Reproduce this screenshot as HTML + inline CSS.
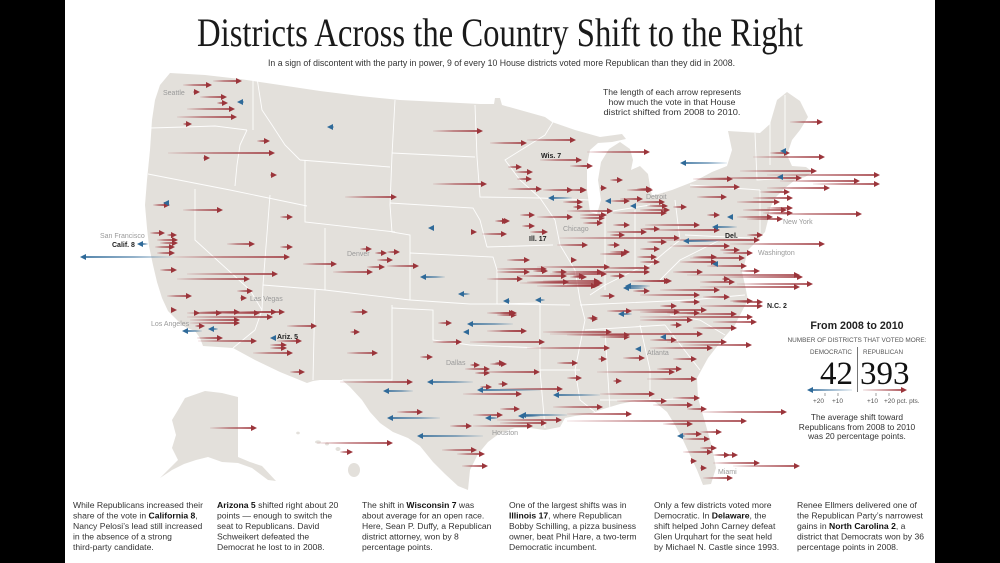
<!DOCTYPE html>
<html><head><meta charset="utf-8"><style>
html,body{margin:0;padding:0;background:#000;}
svg{display:block;}
</style></head><body>
<svg width="1000" height="563" viewBox="0 0 1000 563" xmlns="http://www.w3.org/2000/svg">
<defs>
<linearGradient id="R" x1="0" y1="0" x2="1" y2="0"><stop offset="0" stop-color="#a0393f" stop-opacity="0.08"/><stop offset="0.45" stop-color="#a0393f" stop-opacity="0.65"/><stop offset="1" stop-color="#a0393f" stop-opacity="1"/></linearGradient>
<linearGradient id="B" x1="0" y1="0" x2="1" y2="0"><stop offset="0" stop-color="#2f6a99" stop-opacity="1"/><stop offset="0.55" stop-color="#2f6a99" stop-opacity="0.65"/><stop offset="1" stop-color="#2f6a99" stop-opacity="0.08"/></linearGradient>
<linearGradient id="LB" x1="0" y1="0" x2="1" y2="0"><stop offset="0" stop-color="#2f6a99"/><stop offset="1" stop-color="#2f6a99" stop-opacity="0.12"/></linearGradient>
<linearGradient id="LR" x1="0" y1="0" x2="1" y2="0"><stop offset="0" stop-color="#a0393f" stop-opacity="0.12"/><stop offset="1" stop-color="#a0393f"/></linearGradient>
</defs>
<rect x="0" y="0" width="1000" height="563" fill="#000"/>
<rect x="65" y="0" width="870" height="563" fill="#fff"/>

<!-- map -->
<g fill="#e3e0db">
<path d="M170,73 L205,75 L240,79 L280,85 L320,91 L360,96 L400,100 L440,102 L480,104 L494,104 L495,98 L500,98 L502,105 L520,110 L545,117 L552,122 L575,130 L600,137 L622,134 L626,139 L612,142 L598,143 L590,150 L587,165 L587,190 L590,212 L597,214 L601,200 L598,180 L601,162 L609,149 L620,142 L630,149 L633,160 L631,170 L640,166 L648,174 L650,186 L652,196 L672,190 L695,181 L712,172 L727,166 L732,150 L728,131 L760,133 L770,124 L777,100 L787,92 L800,101 L808,117 L800,130 L792,140 L787,155 L792,166 L806,167 L813,172 L805,177 L795,180 L785,188 L775,198 L770,208 L768,220 L765,232 L755,243 L748,250 L745,262 L742,272 L745,285 L748,300 L740,315 L735,325 L722,340 L708,358 L697,378 L698,398 L705,422 L712,447 L716,468 L711,484 L703,485 L697,470 L690,455 L683,440 L675,425 L667,412 L655,402 L640,400 L620,404 L600,410 L590,414 L575,416 L565,418 L560,427 L545,430 L530,428 L515,428 L500,433 L488,442 L478,454 L470,470 L468,490 L458,486 L445,474 L433,462 L420,446 L408,438 L393,432 L380,423 L370,412 L362,400 L350,387 L342,380 L320,380 L313,381 L307,383 L280,372 L255,360 L233,348 L203,346 L200,338 L195,331 L185,327 L178,321 L168,311 L162,298 L157,282 L153,265 L149,246 L147,228 L145,205 L147,180 L150,150 L152,120 L155,100 L160,85 Z"/>
<path d="M185,398 L205,391 L222,393 L238,397 L238,457 L250,462 L262,466 L276,481 L268,480 L252,468 L238,463 L222,462 L208,457 L196,460 L184,464 L172,470 L160,478 L168,470 L178,460 L172,448 L176,435 L172,420 L178,410 Z"/>
<ellipse cx="298" cy="433" rx="1.8" ry="1.4"/><ellipse cx="318" cy="442" rx="3" ry="1.6"/><ellipse cx="327" cy="444" rx="2" ry="1.5"/><ellipse cx="338" cy="449" rx="2.5" ry="2"/><ellipse cx="354" cy="470" rx="6" ry="7"/>
</g>
<!-- state borders -->
<g fill="none" stroke="#fff" stroke-width="0.9" stroke-opacity="0.95">
<path d="M150,128 L185,127 L215,126 L247,130"/>
<path d="M253,75 L253,130"/>
<path d="M247,130 L240,145 L237,165 L235,186"/>
<path d="M148,174 L230,190 L307,206"/>
<path d="M195,189 L195,240 L250,290 L262,310"/>
<path d="M270,195 L263,285 L262,310 L255,330 L233,348"/>
<path d="M257,78 L262,110 L272,125 L285,145 L300,160"/>
<path d="M300,160 L390,167"/>
<path d="M305,160 L305,222 L395,232"/>
<path d="M325,228 L325,290"/>
<path d="M263,285 L325,290 L410,300 L470,304 L497,304"/>
<path d="M315,290 L313,380"/>
<path d="M395,100 L392,155 L390,205 L392,232 L410,235 L410,300"/>
<path d="M392,153 L475,157"/>
<path d="M390,203 L473,208 L480,220 L487,247"/>
<path d="M410,253 L493,257 L497,270 L497,304"/>
<path d="M392,305 L392,380 L342,380"/>
<path d="M392,308 L433,310 L433,340 L470,345 L540,348"/>
<path d="M497,304 L540,303 L540,370 L545,428"/>
<path d="M475,105 L477,157 L480,197 L540,198"/>
<path d="M553,122 L545,135 L505,160 L520,180 L540,198"/>
<path d="M487,247 L553,245"/>
<path d="M497,304 L570,305"/>
<path d="M540,198 L555,220 L560,245 L575,270 L580,300 L585,320 L580,345 L575,370 L580,400 L595,412"/>
<path d="M540,198 L590,200"/>
<path d="M605,215 L605,290"/>
<path d="M635,210 L635,270"/>
<path d="M675,200 L680,240"/>
<path d="M590,295 L605,285 L635,270 L650,265 L665,252 L680,240"/>
<path d="M600,213 L650,205"/>
<path d="M580,305 L690,300 L745,295"/>
<path d="M585,330 L665,325"/>
<path d="M540,370 L580,370"/>
<path d="M605,330 L610,410"/>
<path d="M640,325 L650,370 L650,400"/>
<path d="M600,400 L655,400 L697,398"/>
<path d="M665,325 L700,370"/>
<path d="M670,315 L700,320 L725,335"/>
<path d="M660,280 L680,260 L700,250 L720,240"/>
<path d="M690,185 L760,190"/>
<path d="M685,235 L750,238"/>
<path d="M760,190 L760,235"/>
<path d="M755,133 L757,180 L790,178"/>
<path d="M770,122 L770,165"/>
<path d="M785,95 L785,150"/>
</g>

<!-- red arrow shafts -->
<g fill="url(#R)">
<rect x="213" y="80.2" width="24" height="1.6"/><rect x="183" y="84.2" width="24" height="1.6"/><rect x="193" y="91.2" width="2" height="1.6"/><rect x="200" y="96.2" width="22" height="1.6"/><rect x="217" y="102.2" width="6" height="1.6"/><rect x="187" y="108.2" width="43" height="1.6"/><rect x="177" y="116.2" width="55" height="1.6"/><rect x="183" y="123.2" width="4" height="1.6"/><rect x="257" y="140.2" width="8" height="1.6"/><rect x="168" y="152.2" width="102" height="1.6"/><rect x="203" y="157.2" width="2" height="1.6"/><rect x="270" y="174.2" width="2" height="1.6"/><rect x="153" y="204.2" width="12" height="1.6"/><rect x="183" y="209.2" width="35" height="1.6"/><rect x="280" y="216.2" width="8" height="1.6"/><rect x="345" y="196.2" width="47" height="1.6"/><rect x="150" y="232.2" width="10" height="1.6"/><rect x="167" y="234.2" width="5" height="1.6"/><rect x="157" y="239.2" width="16" height="1.6"/><rect x="160" y="242.2" width="13" height="1.6"/><rect x="155" y="246.2" width="15" height="1.6"/><rect x="227" y="243.2" width="23" height="1.6"/><rect x="280" y="246.2" width="8" height="1.6"/><rect x="173" y="256.2" width="112" height="1.6"/><rect x="157" y="252.2" width="13" height="1.6"/><rect x="303" y="263.2" width="29" height="1.6"/><rect x="160" y="269.2" width="12" height="1.6"/><rect x="187" y="273.2" width="86" height="1.6"/><rect x="177" y="278.2" width="68" height="1.6"/><rect x="167" y="295.2" width="20" height="1.6"/><rect x="237" y="290.2" width="11" height="1.6"/><rect x="240" y="297.2" width="2" height="1.6"/>
<rect x="187" y="312.2" width="30" height="1.6"/><rect x="200" y="311.2" width="35" height="1.6"/><rect x="210" y="312.2" width="45" height="1.6"/><rect x="230" y="311.2" width="42" height="1.6"/><rect x="250" y="311.2" width="30" height="1.6"/><rect x="187" y="316.2" width="81" height="1.6"/><rect x="190" y="319.2" width="45" height="1.6"/><rect x="190" y="322.2" width="45" height="1.6"/><rect x="195" y="325.2" width="5" height="1.6"/><rect x="197" y="337.2" width="21" height="1.6"/><rect x="198" y="340.2" width="54" height="1.6"/><rect x="277" y="340.2" width="20" height="1.6"/><rect x="270" y="344.2" width="12" height="1.6"/><rect x="270" y="347.2" width="12" height="1.6"/><rect x="253" y="352.2" width="35" height="1.6"/><rect x="287" y="325.2" width="25" height="1.6"/><rect x="290" y="371.2" width="10" height="1.6"/><rect x="350" y="311.2" width="13" height="1.6"/><rect x="350" y="331.2" width="5" height="1.6"/><rect x="347" y="352.2" width="26" height="1.6"/>
<rect x="433" y="130.2" width="45" height="1.6"/><rect x="490" y="142.2" width="32" height="1.6"/><rect x="527" y="139.2" width="44" height="1.6"/><rect x="540" y="159.2" width="37" height="1.6"/><rect x="570" y="165.2" width="18" height="1.6"/><rect x="508" y="166.2" width="9" height="1.6"/><rect x="515" y="171.2" width="13" height="1.6"/><rect x="517" y="178.2" width="10" height="1.6"/><rect x="508" y="188.2" width="29" height="1.6"/><rect x="543" y="189.2" width="25" height="1.6"/><rect x="567" y="189.2" width="14" height="1.6"/><rect x="433" y="183.2" width="49" height="1.6"/><rect x="563" y="201.2" width="15" height="1.6"/><rect x="573" y="206.2" width="5" height="1.6"/><rect x="482" y="233.2" width="20" height="1.6"/><rect x="495" y="220.2" width="8" height="1.6"/><rect x="520" y="214.2" width="10" height="1.6"/><rect x="537" y="216.2" width="31" height="1.6"/><rect x="522" y="225.2" width="8" height="1.6"/><rect x="530" y="231.2" width="13" height="1.6"/><rect x="557" y="244.2" width="26" height="1.6"/><rect x="360" y="248.2" width="7" height="1.6"/><rect x="375" y="252.2" width="7" height="1.6"/><rect x="387" y="251.2" width="8" height="1.6"/><rect x="377" y="259.2" width="11" height="1.6"/><rect x="367" y="266.2" width="13" height="1.6"/><rect x="387" y="265.2" width="27" height="1.6"/><rect x="333" y="271.2" width="35" height="1.6"/><rect x="507" y="259.2" width="18" height="1.6"/><rect x="497" y="271.2" width="28" height="1.6"/><rect x="533" y="270.2" width="10" height="1.6"/><rect x="552" y="271.2" width="10" height="1.6"/><rect x="487" y="278.2" width="31" height="1.6"/><rect x="527" y="281.2" width="37" height="1.6"/><rect x="570" y="276.2" width="12" height="1.6"/>
<rect x="487" y="312.2" width="25" height="1.6"/><rect x="438" y="322.2" width="9" height="1.6"/><rect x="487" y="330.2" width="35" height="1.6"/><rect x="433" y="341.2" width="24" height="1.6"/><rect x="470" y="341.2" width="70" height="1.6"/><rect x="420" y="356.2" width="8" height="1.6"/><rect x="470" y="364.2" width="5" height="1.6"/><rect x="465" y="368.2" width="20" height="1.6"/><rect x="475" y="372.2" width="10" height="1.6"/><rect x="490" y="363.2" width="12" height="1.6"/><rect x="483" y="371.2" width="52" height="1.6"/><rect x="340" y="381.2" width="68" height="1.6"/><rect x="480" y="386.2" width="7" height="1.6"/><rect x="463" y="393.2" width="54" height="1.6"/><rect x="500" y="408.2" width="15" height="1.6"/><rect x="397" y="411.2" width="21" height="1.6"/><rect x="473" y="414.2" width="25" height="1.6"/><rect x="497" y="419.2" width="60" height="1.6"/><rect x="450" y="425.2" width="17" height="1.6"/><rect x="473" y="425.2" width="55" height="1.6"/><rect x="442" y="449.2" width="30" height="1.6"/><rect x="457" y="453.2" width="23" height="1.6"/><rect x="462" y="465.2" width="21" height="1.6"/><rect x="210" y="427.2" width="42" height="1.6"/><rect x="317" y="442.2" width="71" height="1.6"/><rect x="340" y="451.2" width="8" height="1.6"/>
<rect x="560" y="271.2" width="38" height="1.6"/><rect x="583" y="271.2" width="62" height="1.6"/><rect x="673" y="271.2" width="25" height="1.6"/><rect x="740" y="270.2" width="15" height="1.6"/><rect x="573" y="275.2" width="7" height="1.6"/><rect x="610" y="275.2" width="10" height="1.6"/><rect x="520" y="282.2" width="78" height="1.6"/><rect x="567" y="284.2" width="28" height="1.6"/><rect x="643" y="280.2" width="24" height="1.6"/><rect x="687" y="274.2" width="108" height="1.6"/><rect x="700" y="286.2" width="95" height="1.6"/><rect x="722" y="278.2" width="3" height="1.6"/><rect x="600" y="295.2" width="10" height="1.6"/><rect x="703" y="296.2" width="22" height="1.6"/><rect x="730" y="300.2" width="18" height="1.6"/><rect x="733" y="301.2" width="25" height="1.6"/><rect x="680" y="301.2" width="15" height="1.6"/><rect x="660" y="305.2" width="12" height="1.6"/><rect x="700" y="305.2" width="58" height="1.6"/><rect x="500" y="312.2" width="10" height="1.6"/><rect x="607" y="310.2" width="20" height="1.6"/><rect x="627" y="309.2" width="75" height="1.6"/><rect x="667" y="312.2" width="28" height="1.6"/><rect x="687" y="313.2" width="45" height="1.6"/><rect x="590" y="318.2" width="3" height="1.6"/><rect x="640" y="316.2" width="108" height="1.6"/><rect x="640" y="319.2" width="48" height="1.6"/><rect x="713" y="321.2" width="39" height="1.6"/><rect x="670" y="324.2" width="7" height="1.6"/><rect x="693" y="327.2" width="39" height="1.6"/><rect x="500" y="330.2" width="22" height="1.6"/><rect x="543" y="331.2" width="64" height="1.6"/><rect x="550" y="333.2" width="148" height="1.6"/><rect x="600" y="336.2" width="25" height="1.6"/><rect x="650" y="339.2" width="22" height="1.6"/><rect x="667" y="341.2" width="55" height="1.6"/><rect x="683" y="344.2" width="64" height="1.6"/><rect x="527" y="347.2" width="78" height="1.6"/><rect x="650" y="347.2" width="58" height="1.6"/><rect x="673" y="358.2" width="19" height="1.6"/><rect x="598" y="358.2" width="4" height="1.6"/><rect x="623" y="357.2" width="17" height="1.6"/><rect x="557" y="362.2" width="16" height="1.6"/><rect x="495" y="362.2" width="5" height="1.6"/><rect x="597" y="371.2" width="73" height="1.6"/><rect x="657" y="368.2" width="20" height="1.6"/><rect x="567" y="377.2" width="10" height="1.6"/><rect x="647" y="378.2" width="45" height="1.6"/><rect x="613" y="380.2" width="4" height="1.6"/><rect x="498" y="383.2" width="5" height="1.6"/><rect x="500" y="388.2" width="58" height="1.6"/><rect x="600" y="393.2" width="50" height="1.6"/><rect x="673" y="397.2" width="22" height="1.6"/><rect x="653" y="404.2" width="35" height="1.6"/><rect x="617" y="400.2" width="45" height="1.6"/><rect x="553" y="406.2" width="45" height="1.6"/><rect x="687" y="408.2" width="15" height="1.6"/><rect x="700" y="411.2" width="82" height="1.6"/><rect x="567" y="413.2" width="60" height="1.6"/><rect x="500" y="422.2" width="42" height="1.6"/><rect x="567" y="420.2" width="175" height="1.6"/><rect x="663" y="423.2" width="25" height="1.6"/><rect x="700" y="431.2" width="17" height="1.6"/><rect x="680" y="433.2" width="17" height="1.6"/><rect x="683" y="438.2" width="22" height="1.6"/><rect x="700" y="447.2" width="12" height="1.6"/><rect x="683" y="451.2" width="25" height="1.6"/><rect x="713" y="454.2" width="12" height="1.6"/><rect x="723" y="454.2" width="10" height="1.6"/><rect x="690" y="460.2" width="2" height="1.6"/><rect x="713" y="462.2" width="42" height="1.6"/><rect x="733" y="465.2" width="62" height="1.6"/><rect x="700" y="467.2" width="2" height="1.6"/><rect x="703" y="477.2" width="25" height="1.6"/>
<rect x="790" y="121.2" width="28" height="1.6"/><rect x="587" y="151.2" width="58" height="1.6"/><rect x="770" y="152.2" width="15" height="1.6"/><rect x="753" y="156.2" width="67" height="1.6"/><rect x="580" y="165.2" width="8" height="1.6"/><rect x="610" y="179.2" width="8" height="1.6"/><rect x="740" y="170.2" width="72" height="1.6"/><rect x="767" y="174.2" width="108" height="1.6"/><rect x="693" y="178.2" width="35" height="1.6"/><rect x="710" y="177.2" width="87" height="1.6"/><rect x="780" y="180.2" width="75" height="1.6"/><rect x="813" y="183.2" width="62" height="1.6"/><rect x="767" y="187.2" width="58" height="1.6"/><rect x="580" y="189.2" width="2" height="1.6"/><rect x="600" y="187.2" width="2" height="1.6"/><rect x="637" y="188.2" width="10" height="1.6"/><rect x="690" y="186.2" width="45" height="1.6"/><rect x="697" y="196.2" width="25" height="1.6"/><rect x="760" y="191.2" width="25" height="1.6"/><rect x="610" y="200.2" width="15" height="1.6"/><rect x="637" y="201.2" width="23" height="1.6"/><rect x="647" y="205.2" width="16" height="1.6"/><rect x="673" y="206.2" width="9" height="1.6"/><rect x="737" y="201.2" width="38" height="1.6"/><rect x="753" y="197.2" width="35" height="1.6"/><rect x="767" y="207.2" width="21" height="1.6"/><rect x="743" y="209.2" width="39" height="1.6"/><rect x="763" y="212.2" width="25" height="1.6"/><rect x="767" y="213.2" width="90" height="1.6"/><rect x="580" y="214.2" width="22" height="1.6"/><rect x="580" y="217.2" width="20" height="1.6"/><rect x="613" y="212.2" width="49" height="1.6"/><rect x="707" y="214.2" width="8" height="1.6"/><rect x="737" y="216.2" width="31" height="1.6"/><rect x="747" y="218.2" width="31" height="1.6"/><rect x="730" y="243.2" width="90" height="1.6"/><rect x="747" y="234.2" width="11" height="1.6"/><rect x="720" y="249.2" width="15" height="1.6"/><rect x="723" y="252.2" width="25" height="1.6"/><rect x="693" y="256.2" width="19" height="1.6"/><rect x="680" y="261.2" width="32" height="1.6"/><rect x="707" y="265.2" width="35" height="1.6"/><rect x="723" y="276.2" width="75" height="1.6"/><rect x="737" y="283.2" width="71" height="1.6"/><rect x="657" y="280.2" width="10" height="1.6"/>
<rect x="627" y="189.2" width="21" height="1.6"/><rect x="620" y="198.2" width="18" height="1.6"/><rect x="640" y="209.2" width="25" height="1.6"/><rect x="567" y="210.2" width="41" height="1.6"/><rect x="500" y="220.2" width="5" height="1.6"/><rect x="583" y="222.2" width="15" height="1.6"/><rect x="613" y="224.2" width="12" height="1.6"/><rect x="607" y="231.2" width="35" height="1.6"/><rect x="610" y="234.2" width="10" height="1.6"/><rect x="640" y="228.2" width="15" height="1.6"/><rect x="560" y="237.2" width="115" height="1.6"/><rect x="607" y="244.2" width="8" height="1.6"/><rect x="610" y="251.2" width="15" height="1.6"/><rect x="640" y="248.2" width="15" height="1.6"/><rect x="647" y="241.2" width="15" height="1.6"/><rect x="600" y="253.2" width="22" height="1.6"/><rect x="637" y="256.2" width="15" height="1.6"/><rect x="640" y="261.2" width="15" height="1.6"/><rect x="497" y="268.2" width="45" height="1.6"/><rect x="537" y="266.2" width="68" height="1.6"/><rect x="600" y="267.2" width="45" height="1.6"/><rect x="550" y="273.2" width="52" height="1.6"/><rect x="517" y="275.2" width="45" height="1.6"/><rect x="543" y="280.2" width="52" height="1.6"/><rect x="537" y="285.2" width="55" height="1.6"/><rect x="630" y="280.2" width="35" height="1.6"/><rect x="633" y="290.2" width="12" height="1.6"/><rect x="497" y="314.2" width="15" height="1.6"/><rect x="587" y="317.2" width="6" height="1.6"/><rect x="640" y="311.2" width="35" height="1.6"/><rect x="567" y="334.2" width="58" height="1.6"/>
<rect x="645" y="224.2" width="50" height="1.6"/><rect x="650" y="229.2" width="65" height="1.6"/><rect x="660" y="239.2" width="95" height="1.6"/><rect x="660" y="289.2" width="55" height="1.6"/><rect x="640" y="294.2" width="55" height="1.6"/><rect x="700" y="281.2" width="30" height="1.6"/><rect x="670" y="245.2" width="55" height="1.6"/><rect x="690" y="257.2" width="50" height="1.6"/>
</g>
<!-- red arrow heads -->
<path fill="#9b353b" d="M242 81l-6-3v6zM212 85l-6-3v6zM200 92l-6-3v6zM227 97l-6-3v6zM228 103l-6-3v6zM235 109l-6-3v6zM237 117l-6-3v6zM192 124l-6-3v6zM270 141l-6-3v6zM275 153l-6-3v6zM210 158l-6-3v6zM277 175l-6-3v6zM170 205l-6-3v6zM223 210l-6-3v6zM293 217l-6-3v6zM397 197l-6-3v6zM165 233l-6-3v6zM177 235l-6-3v6zM178 240l-6-3v6zM178 243l-6-3v6zM175 247l-6-3v6zM255 244l-6-3v6zM293 247l-6-3v6zM290 257l-6-3v6zM175 253l-6-3v6zM337 264l-6-3v6zM177 270l-6-3v6zM278 274l-6-3v6zM250 279l-6-3v6zM192 296l-6-3v6zM253 291l-6-3v6zM247 298l-6-3v6zM177 310l-6-3v6z
M200 313l-6-3v6zM222 313l-6-3v6zM240 312l-6-3v6zM260 313l-6-3v6zM277 312l-6-3v6zM285 312l-6-3v6zM273 317l-6-3v6zM240 320l-6-3v6zM240 323l-6-3v6zM205 326l-6-3v6zM223 338l-6-3v6zM257 341l-6-3v6zM302 341l-6-3v6zM287 345l-6-3v6zM287 348l-6-3v6zM293 353l-6-3v6zM317 326l-6-3v6zM305 372l-6-3v6zM368 312l-6-3v6zM360 332l-6-3v6zM378 353l-6-3v6z
M483 131l-6-3v6zM527 143l-6-3v6zM576 140l-6-3v6zM582 160l-6-3v6zM593 166l-6-3v6zM522 167l-6-3v6zM533 172l-6-3v6zM532 179l-6-3v6zM542 189l-6-3v6zM573 190l-6-3v6zM586 190l-6-3v6zM487 184l-6-3v6zM583 202l-6-3v6zM583 207l-6-3v6zM477 232l-6-3v6zM507 234l-6-3v6zM508 221l-6-3v6zM535 215l-6-3v6zM573 217l-6-3v6zM535 226l-6-3v6zM548 232l-6-3v6zM588 245l-6-3v6zM372 249l-6-3v6zM387 253l-6-3v6zM400 252l-6-3v6zM393 260l-6-3v6zM385 267l-6-3v6zM419 266l-6-3v6zM373 272l-6-3v6zM530 260l-6-3v6zM577 260l-6-3v6zM530 272l-6-3v6zM548 271l-6-3v6zM567 272l-6-3v6zM523 279l-6-3v6zM569 282l-6-3v6zM587 277l-6-3v6z
M517 313l-6-3v6zM452 323l-6-3v6zM527 331l-6-3v6zM462 342l-6-3v6zM545 342l-6-3v6zM433 357l-6-3v6zM480 365l-6-3v6zM490 369l-6-3v6zM490 373l-6-3v6zM507 364l-6-3v6zM540 372l-6-3v6zM413 382l-6-3v6zM492 387l-6-3v6zM522 394l-6-3v6zM520 409l-6-3v6zM423 412l-6-3v6zM503 415l-6-3v6zM562 420l-6-3v6zM472 426l-6-3v6zM533 426l-6-3v6zM477 450l-6-3v6zM485 454l-6-3v6zM488 466l-6-3v6zM257 428l-6-3v6zM393 443l-6-3v6zM353 452l-6-3v6z
M603 272l-6-3v6zM650 272l-6-3v6zM703 272l-6-3v6zM760 271l-6-3v6zM585 276l-6-3v6zM625 276l-6-3v6zM603 283l-6-3v6zM600 285l-6-3v6zM672 281l-6-3v6zM800 275l-6-3v6zM800 287l-6-3v6zM730 279l-6-3v6zM615 296l-6-3v6zM730 297l-6-3v6zM753 301l-6-3v6zM763 302l-6-3v6zM700 302l-6-3v6zM677 306l-6-3v6zM763 306l-6-3v6zM515 313l-6-3v6zM632 311l-6-3v6zM707 310l-6-3v6zM700 313l-6-3v6zM737 314l-6-3v6zM598 319l-6-3v6zM753 317l-6-3v6zM693 320l-6-3v6zM757 322l-6-3v6zM682 325l-6-3v6zM737 328l-6-3v6zM527 331l-6-3v6zM612 332l-6-3v6zM703 334l-6-3v6zM630 337l-6-3v6zM677 340l-6-3v6zM727 342l-6-3v6zM752 345l-6-3v6zM610 348l-6-3v6zM713 348l-6-3v6zM697 359l-6-3v6zM607 359l-6-3v6zM645 358l-6-3v6zM578 363l-6-3v6zM505 363l-6-3v6zM675 372l-6-3v6zM682 369l-6-3v6zM582 378l-6-3v6zM697 379l-6-3v6zM622 381l-6-3v6zM508 384l-6-3v6zM563 389l-6-3v6zM655 394l-6-3v6zM700 398l-6-3v6zM693 405l-6-3v6zM667 401l-6-3v6zM603 407l-6-3v6zM707 409l-6-3v6zM787 412l-6-3v6zM632 414l-6-3v6zM547 423l-6-3v6zM747 421l-6-3v6zM693 424l-6-3v6zM722 432l-6-3v6zM702 434l-6-3v6zM710 439l-6-3v6zM717 448l-6-3v6zM713 452l-6-3v6zM730 455l-6-3v6zM738 455l-6-3v6zM697 461l-6-3v6zM760 463l-6-3v6zM800 466l-6-3v6zM707 468l-6-3v6zM733 478l-6-3v6z
M823 122l-6-3v6zM650 152l-6-3v6zM790 153l-6-3v6zM825 157l-6-3v6zM593 166l-6-3v6zM623 180l-6-3v6zM817 171l-6-3v6zM880 175l-6-3v6zM733 179l-6-3v6zM802 178l-6-3v6zM860 181l-6-3v6zM880 184l-6-3v6zM830 188l-6-3v6zM587 190l-6-3v6zM607 188l-6-3v6zM652 189l-6-3v6zM740 187l-6-3v6zM727 197l-6-3v6zM790 192l-6-3v6zM630 201l-6-3v6zM665 202l-6-3v6zM668 206l-6-3v6zM687 207l-6-3v6zM780 202l-6-3v6zM793 198l-6-3v6zM793 208l-6-3v6zM787 210l-6-3v6zM793 213l-6-3v6zM862 214l-6-3v6zM607 215l-6-3v6zM605 218l-6-3v6zM667 213l-6-3v6zM720 215l-6-3v6zM773 217l-6-3v6zM783 219l-6-3v6zM825 244l-6-3v6zM763 235l-6-3v6zM740 250l-6-3v6zM753 253l-6-3v6zM717 257l-6-3v6zM717 262l-6-3v6zM747 266l-6-3v6zM803 277l-6-3v6zM813 284l-6-3v6zM672 281l-6-3v6z
M653 190l-6-3v6zM643 199l-6-3v6zM670 210l-6-3v6zM613 211l-6-3v6zM510 221l-6-3v6zM603 223l-6-3v6zM630 225l-6-3v6zM647 232l-6-3v6zM625 235l-6-3v6zM660 229l-6-3v6zM680 238l-6-3v6zM620 245l-6-3v6zM630 252l-6-3v6zM660 249l-6-3v6zM667 242l-6-3v6zM627 254l-6-3v6zM657 257l-6-3v6zM660 262l-6-3v6zM547 269l-6-3v6zM610 267l-6-3v6zM650 268l-6-3v6zM607 274l-6-3v6zM567 276l-6-3v6zM600 281l-6-3v6zM597 286l-6-3v6zM670 281l-6-3v6zM650 291l-6-3v6zM517 315l-6-3v6zM598 318l-6-3v6zM680 312l-6-3v6zM630 335l-6-3v6z
M700 225l-6-3v6zM720 230l-6-3v6zM760 240l-6-3v6zM720 290l-6-3v6zM700 295l-6-3v6zM735 282l-6-3v6zM730 246l-6-3v6zM745 258l-6-3v6z"/>

<!-- blue arrows -->
<g fill="url(#B)">
<rect x="242" y="101.2" width="2" height="1.6"/><rect x="332" y="126.2" width="2" height="1.6"/><rect x="142" y="243.2" width="6" height="1.6"/><rect x="85" y="256.2" width="88" height="1.6"/><rect x="187" y="330.2" width="15" height="1.6"/><rect x="213" y="328.2" width="5" height="1.6"/><rect x="425" y="276.2" width="20" height="1.6"/><rect x="463" y="293.2" width="7" height="1.6"/><rect x="508" y="300.2" width="2" height="1.6"/><rect x="540" y="299.2" width="5" height="1.6"/><rect x="472" y="323.2" width="41" height="1.6"/><rect x="432" y="381.2" width="41" height="1.6"/><rect x="482" y="389.2" width="58" height="1.6"/><rect x="388" y="390.2" width="25" height="1.6"/><rect x="392" y="417.2" width="48" height="1.6"/><rect x="490" y="417.2" width="8" height="1.6"/><rect x="523" y="415.2" width="17" height="1.6"/><rect x="422" y="435.2" width="61" height="1.6"/><rect x="553" y="197.2" width="19" height="1.6"/><rect x="630" y="285.2" width="20" height="1.6"/><rect x="623" y="313.2" width="9" height="1.6"/><rect x="558" y="394.2" width="42" height="1.6"/><rect x="525" y="414.2" width="42" height="1.6"/><rect x="682" y="435.2" width="3" height="1.6"/><rect x="685" y="162.2" width="42" height="1.6"/><rect x="717" y="226.2" width="20" height="1.6"/><rect x="688" y="240.2" width="32" height="1.6"/><rect x="628" y="287.2" width="19" height="1.6"/>
</g>
<path fill="#2f6a99" d="M237 102l6-3v6zM327 127l6-3v6zM163 203l6-3v6zM137 244l6-3v6zM80 257l6-3v6zM182 331l6-3v6zM208 329l6-3v6zM270 338l6-3v6zM420 277l6-3v6zM458 294l6-3v6zM503 301l6-3v6zM535 300l6-3v6zM467 324l6-3v6zM463 332l6-3v6zM427 382l6-3v6zM477 390l6-3v6zM383 391l6-3v6zM387 418l6-3v6zM485 418l6-3v6zM518 416l6-3v6zM417 436l6-3v6zM548 198l6-3v6zM428 228l6-3v6zM625 286l6-3v6zM618 314l6-3v6zM660 337l6-3v6zM635 349l6-3v6zM553 395l6-3v6zM520 415l6-3v6zM677 436l6-3v6zM780 151l6-3v6zM680 163l6-3v6zM777 177l6-3v6zM605 201l6-3v6zM630 206l6-3v6zM727 217l6-3v6zM712 227l6-3v6zM683 241l6-3v6zM712 264l6-3v6zM623 288l6-3v6z"/>

<!-- city labels -->
<g font-family="Liberation Sans, sans-serif" font-size="7" fill="#9a9a9a">
<text x="163" y="95">Seattle</text>
<text x="100" y="238">San Francisco</text>
<text x="151" y="326">Los Angeles</text>
<text x="250" y="301">Las Vegas</text>
<text x="347" y="256">Denver</text>
<text x="446" y="365">Dallas</text>
<text x="492" y="435">Houston</text>
<text x="563" y="231">Chicago</text>
<text x="646" y="199">Detroit</text>
<text x="783" y="224">New York</text>
<text x="758" y="255">Washington</text>
<text x="647" y="355">Atlanta</text>
<text x="718" y="474">Miami</text>
</g>
<g font-family="Liberation Sans, sans-serif" font-size="7" font-weight="bold" fill="#222">
<text x="112" y="247">Calif. 8</text>
<text x="277" y="339">Ariz. 5</text>
<text x="541" y="158">Wis. 7</text>
<text x="529" y="241">Ill. 17</text>
<text x="725" y="238">Del.</text>
<text x="767" y="308">N.C. 2</text>
</g>

<!-- title -->
<text x="197" y="46" font-family="Liberation Serif, serif" font-size="40" fill="#1a1a1a" textLength="606" lengthAdjust="spacingAndGlyphs">Districts Across the Country Shift to the Right</text>
<text x="268" y="66" font-family="Liberation Sans, sans-serif" font-size="9" fill="#333" textLength="467" lengthAdjust="spacingAndGlyphs">In a sign of discontent with the party in power, 9 of every 10 House districts voted more Republican than they did in 2008.</text>

<!-- annotation -->
<g font-family="Liberation Sans, sans-serif" font-size="8.4" fill="#333" text-anchor="middle">
<text x="672" y="95" textLength="138" lengthAdjust="spacingAndGlyphs">The length of each arrow represents</text>
<text x="672" y="105" textLength="127" lengthAdjust="spacingAndGlyphs">how much the vote in that House</text>
<text x="672" y="115" textLength="137" lengthAdjust="spacingAndGlyphs">district shifted from 2008 to 2010.</text>
</g>

<!-- legend -->
<g font-family="Liberation Sans, sans-serif" fill="#222">
<text x="857" y="329" text-anchor="middle" font-size="10.7" font-weight="bold">From 2008 to 2010</text>
<text x="857" y="342" text-anchor="middle" font-size="6.6" fill="#555" textLength="139" lengthAdjust="spacingAndGlyphs">NUMBER OF DISTRICTS THAT VOTED MORE:</text>
<text x="852" y="354" text-anchor="end" font-size="6.4" fill="#555" textLength="42" lengthAdjust="spacingAndGlyphs">DEMOCRATIC</text>
<text x="863" y="354" font-size="6.4" fill="#555" textLength="40" lengthAdjust="spacingAndGlyphs">REPUBLICAN</text>
</g>
<line x1="857.5" y1="347" x2="857.5" y2="392" stroke="#555" stroke-width="0.8"/>
<g font-family="Liberation Serif, serif" font-size="33" fill="#111">
<text x="853" y="384" text-anchor="end">42</text>
<text x="860" y="384">393</text>
</g>
<rect x="812" y="389.2" width="40" height="1.6" fill="url(#LB)"/>
<path fill="#2f6a99" d="M807 390l6-3v6z"/>
<rect x="863" y="389.2" width="39" height="1.6" fill="url(#LR)"/>
<path fill="#9b353b" d="M907 390l-6-3v6z"/>
<g stroke="#888" stroke-width="0.8"><line x1="825" y1="393" x2="825" y2="396"/><line x1="838" y1="393" x2="838" y2="396"/><line x1="876" y1="393" x2="876" y2="396"/><line x1="889" y1="393" x2="889" y2="396"/></g>
<g font-family="Liberation Sans, sans-serif" font-size="6.5" fill="#555">
<text x="813" y="403">+20</text><text x="832" y="403">+10</text><text x="867" y="403">+10</text><text x="884" y="403">+20 pct. pts.</text>
</g>
<g font-family="Liberation Sans, sans-serif" font-size="8.4" fill="#333" text-anchor="middle">
<text x="857" y="420">The average shift toward</text>
<text x="857" y="430">Republicans from 2008 to 2010</text>
<text x="857" y="439">was 20 percentage points.</text>
</g>

<!-- bottom columns -->
<g font-family="Liberation Sans, sans-serif" font-size="8.6" fill="#333">
<text x="73" y="508">While Republicans increased their</text>
<text x="73" y="518.5">share of the vote in <tspan font-weight="bold" fill="#111">California 8</tspan>,</text>
<text x="73" y="529">Nancy Pelosi’s lead still increased</text>
<text x="73" y="539.5">in the absence of a strong</text>
<text x="73" y="550">third-party candidate.</text>

<text x="217" y="508"><tspan font-weight="bold" fill="#111">Arizona 5</tspan> shifted right about 20</text>
<text x="217" y="518.5">points — enough to switch the</text>
<text x="217" y="529">seat to Republicans. David</text>
<text x="217" y="539.5">Schweikert defeated the</text>
<text x="217" y="550">Democrat he lost to in 2008.</text>

<text x="362" y="508">The shift in <tspan font-weight="bold" fill="#111">Wisconsin 7</tspan> was</text>
<text x="362" y="518.5">about average for an open race.</text>
<text x="362" y="529">Here, Sean P. Duffy, a Republican</text>
<text x="362" y="539.5">district attorney, won by 8</text>
<text x="362" y="550">percentage points.</text>

<text x="509" y="508">One of the largest shifts was in</text>
<text x="509" y="518.5"><tspan font-weight="bold" fill="#111">Illinois 17</tspan>, where Republican</text>
<text x="509" y="529">Bobby Schilling, a pizza business</text>
<text x="509" y="539.5">owner, beat Phil Hare, a two-term</text>
<text x="509" y="550">Democratic incumbent.</text>

<text x="654" y="508">Only a few districts voted more</text>
<text x="654" y="518.5">Democratic. In <tspan font-weight="bold" fill="#111">Delaware</tspan>, the</text>
<text x="654" y="529">shift helped John Carney defeat</text>
<text x="654" y="539.5">Glen Urquhart for the seat held</text>
<text x="654" y="550">by Michael N. Castle since 1993.</text>

<text x="797" y="508">Renee Ellmers delivered one of</text>
<text x="797" y="518.5">the Republican Party’s narrowest</text>
<text x="797" y="529">gains in <tspan font-weight="bold" fill="#111">North Carolina 2</tspan>, a</text>
<text x="797" y="539.5">district that Democrats won by 36</text>
<text x="797" y="550">percentage points in 2008.</text>
</g>
</svg>
</body></html>
